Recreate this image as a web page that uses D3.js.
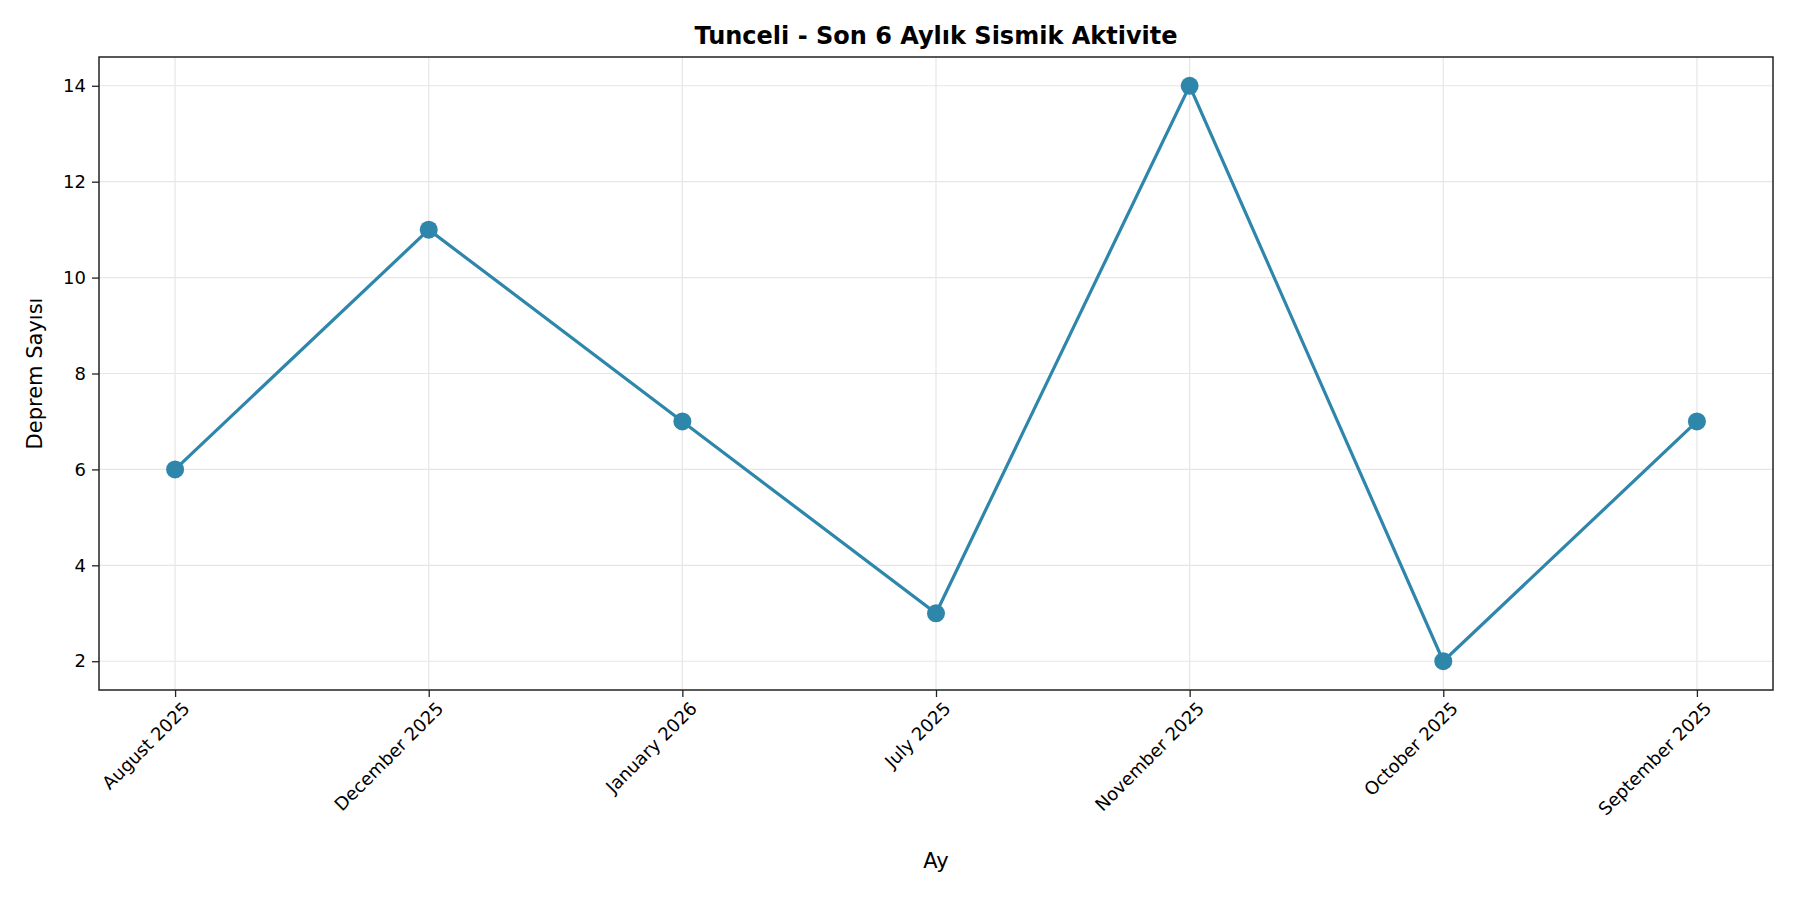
<!DOCTYPE html>
<html><head><meta charset="utf-8">
<script src="https://cdn.jsdelivr.net/npm/d3@7"></script>
<style>body{margin:0;background:#fff}text{font-family:"DejaVu Sans",sans-serif}</style>
</head><body><svg id="chart" width="1800" height="900"></svg>
<script>
var months = ["August 2025","December 2025","January 2026","July 2025","November 2025","October 2025","September 2025"];
var counts = [6, 11, 7, 3, 14, 2, 7];
var yTicks = [2, 4, 6, 8, 10, 12, 14];

var m = {left: 99, right: 1773, top: 57, bottom: 690};
var svg = d3.select("#chart");

var x = d3.scalePoint().domain(months).range([m.left, m.right]).padding(0.3);
var y = d3.scaleLinear().domain([1.4, 14.6]).range([m.bottom, m.top]);

// grid
svg.append("g").selectAll("line").data(yTicks).enter().append("line")
	.attr("x1", m.left).attr("x2", m.right)
	.attr("y1", function (d) { return y(d) }).attr("y2", function (d) { return y(d) })
	.attr("stroke", "#e6e6e6").attr("stroke-width", 1.2);
svg.append("g").selectAll("line").data(months).enter().append("line")
	.attr("y1", m.top).attr("y2", m.bottom)
	.attr("x1", function (d) { return x(d) }).attr("x2", function (d) { return x(d) })
	.attr("stroke", "#e6e6e6").attr("stroke-width", 1.2);

var xAxis = svg.append("g").attr("transform", "translate(0," + m.bottom + ")")
	.call(d3.axisBottom(x).tickSize(7).tickPadding(5));
xAxis.attr("font-size", 18);
xAxis.selectAll("text").attr("font-size", 18).attr("fill", "#000")
	.attr("text-anchor", "end").attr("dx", "0.3em").attr("dy", "0.9em")
	.attr("transform", "rotate(-45,0,12)");
var yAxis = svg.append("g").attr("transform", "translate(" + m.left + ",0)")
	.call(d3.axisLeft(y).tickValues(yTicks).tickSize(7).tickPadding(6));
yAxis.attr("font-size", 18);
yAxis.selectAll("text").attr("font-size", 18).attr("fill", "#000");
svg.selectAll(".domain").remove();
svg.selectAll(".tick line").attr("stroke", "#222").attr("stroke-width", 1.3);

svg.append("rect").attr("x", m.left).attr("y", m.top)
	.attr("width", m.right - m.left).attr("height", m.bottom - m.top)
	.attr("fill", "none").attr("stroke", "#222").attr("stroke-width", 1.5);

var line = d3.line().x(function (d, i) { return x(months[i]) }).y(function (d) { return y(d) });
svg.append("path").datum(counts).attr("d", line)
	.attr("fill", "none").attr("stroke", "#2e86ab").attr("stroke-width", 3.2);
svg.selectAll(".pt").data(counts).enter().append("circle")
	.attr("cx", function (d, i) { return x(months[i]) }).attr("cy", function (d) { return y(d) })
	.attr("r", 9).attr("fill", "#2e86ab");

svg.append("text").attr("x", (m.left + m.right) / 2).attr("y", 44).attr("text-anchor", "middle")
	.attr("font-size", 24).attr("font-weight", "bold").text("Tunceli - Son 6 Aylık Sismik Aktivite");
svg.append("text").attr("x", (m.left + m.right) / 2).attr("y", 868).attr("text-anchor", "middle")
	.attr("font-size", 21).text("Ay");
svg.append("text").attr("transform", "translate(42," + (m.top + m.bottom) / 2 + ") rotate(-90)")
	.attr("text-anchor", "middle").attr("font-size", 21).text("Deprem Sayısı");
</script></body></html>
